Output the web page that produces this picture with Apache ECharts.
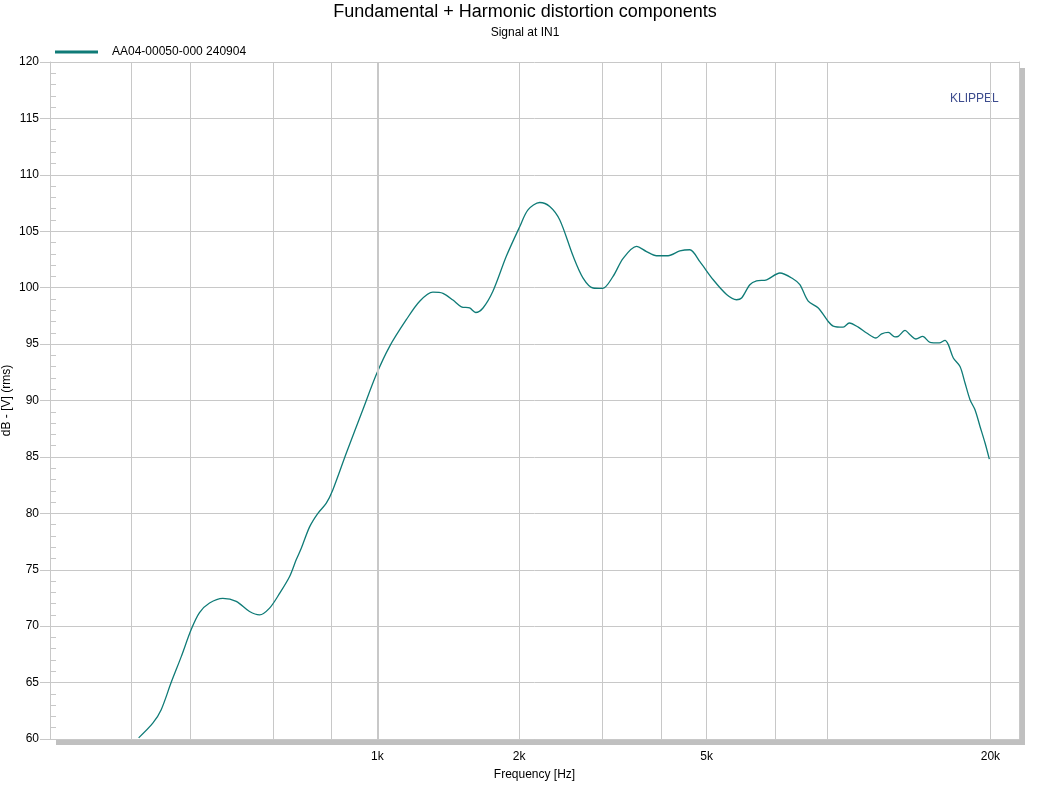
<!DOCTYPE html>
<html>
<head>
<meta charset="utf-8">
<script src="https://cdn.jsdelivr.net/npm/echarts@6/dist/echarts.min.js"></script>
<style>
html,body{margin:0;padding:0;background:#fff;}
#chart{width:1050px;height:788px;}
</style>
</head>
<body>
<div id="chart"></div>
<script>
// ---- data ----
const titleText = 'Fundamental + Harmonic distortion components';
const subtitleText = 'Signal at IN1';
const seriesName = 'AA04-00050-000 240904';
const xAxisName = 'Frequency [Hz]';
const yAxisName = 'dB - [V] (rms)';
const brandText = 'KLIPPEL';

const xGridValues = [300, 400, 600, 800, 1000, 2000, 3000, 4000, 5000, 7000, 9000, 20000];
const xLabelValues = [1000, 2000, 5000, 20000];
const xLabelTexts = ['1k', '2k', '5k', '20k'];

const freqHz = [311.5, 333.8, 347.8, 365.1, 383.6, 402.7, 419.4, 440.5, 470.0, 501.9,
  535.6, 562.4, 590.6, 620.2, 651.4, 673.0, 689.6, 718.2, 747.9, 779.3,
  804.8, 859.5, 932.0, 995, 1062, 1152, 1230, 1312, 1378, 1447,
  1508, 1570, 1617, 1676, 1760, 1879, 2005, 2088, 2211, 2322,
  2439, 2603, 2733, 2870, 3005, 3164, 3324, 3548, 3726, 3912,
  4141, 4385, 4604, 4836, 5162, 5510, 5785, 5929, 6174, 6379,
  6702, 7151, 7633, 7884, 8211, 8626, 9055, 9279, 9743, 10035,
  10486, 10925, 11434, 11755, 12142, 12546, 12750, 13178, 13503, 13904,
  14368, 14891, 15583, 16023, 16283, 16685, 17241, 17668, 18103, 18550,
  19011, 19485, 19897];
const levelDb = [60.1, 61.4, 62.6, 65.0, 67.3, 69.7, 71.2, 72.05, 72.46, 72.2,
  71.3, 71.0, 71.6, 72.9, 74.4, 75.9, 76.9, 78.8, 80.0, 80.9,
  82.1, 85.35, 89.2, 92.3, 94.8, 97.16, 98.8, 99.6, 99.5, 98.9,
  98.3, 98.2, 97.8, 98.2, 99.7, 102.8, 105.4, 106.9, 107.55, 107.2,
  106.0, 102.8, 100.85, 99.97, 99.93, 101.0, 102.6, 103.66, 103.2, 102.83,
  102.83, 103.25, 103.36, 102.3, 100.7, 99.4, 98.93, 99.08, 100.26, 100.6,
  100.7, 101.3, 100.77, 100.26, 98.8, 98.2, 97.0, 96.6, 96.5, 96.87,
  96.5, 95.98, 95.54, 95.9, 96.03, 95.63, 95.68, 96.21, 95.83, 95.45,
  95.68, 95.15, 95.1, 95.33, 94.95, 93.77, 93.02, 91.55, 90.07, 89.18,
  87.7, 86.23, 84.8];

// ---- chart ----
const n = Math.min(freqHz.length, levelDb.length);
const points = [];
for (let i = 0; i < n; i++) points.push([freqHz[i], levelDb[i]]);

const FONT = '"Liberation Sans", Arial, sans-serif';
const GRID = '#c8c8c8';
const LINE = '#0f7b77';

const chart = echarts.init(document.getElementById('chart'), null, {renderer: 'canvas'});
chart.setOption({
  backgroundColor: '#ffffff',
  animation: false,
  title: {
    text: titleText,
    subtext: subtitleText,
    left: 'center',
    top: -2,
    itemGap: 6,
    textStyle: {fontFamily: FONT, fontSize: 18, fontWeight: 'normal', color: '#000'},
    subtextStyle: {fontFamily: FONT, fontSize: 12, color: '#000'}
  },
  legend: {
    left: 50,
    top: 41,
    icon: 'rect',
    itemWidth: 43,
    itemHeight: 3,
    textStyle: {fontFamily: FONT, fontSize: 12, color: '#000', padding: [0, 0, 0, 9]},
    data: [seriesName]
  },
  graphic: [{
    type: 'text',
    left: 950,
    top: 93,
    style: {text: brandText, fill: '#3d4c8e', font: '12px ' + FONT}
  }],
  grid: {
    left: 50, right: 31, top: 62, bottom: 49,
    outerBoundsMode: 'none',
    containLabel: false,
    show: true,
    backgroundColor: '#ffffff',
    borderWidth: 0,
    shadowColor: '#c0c0c0',
    shadowBlur: 0,
    shadowOffsetX: 6,
    shadowOffsetY: 6
  },
  xAxis: {
    type: 'log',
    logBase: 10,
    min: 202,
    max: 23000,
    name: xAxisName,
    nameLocation: 'middle',
    nameGap: 30,
    nameMoveOverlap: false,
    nameTextStyle: {fontFamily: FONT, fontSize: 12, color: '#000'},
    axisLine: {show: false},
    axisTick: {show: false, customValues: xGridValues},
    axisLabel: {
      customValues: xLabelValues,
      margin: 12,
      fontFamily: FONT, fontSize: 12, color: '#000',
      formatter: function (v) {
        const idx = xLabelValues.findIndex(function (x) { return Math.abs(x - v) < 1e-6 * x; });
        return idx >= 0 ? xLabelTexts[idx] : '';
      }
    },
    splitLine: {show: true, lineStyle: {color: GRID, width: 1}},
    minorSplitLine: {show: false}
  },
  yAxis: [{
    type: 'value',
    min: 60, max: 120, interval: 5,
    name: yAxisName,
    nameLocation: 'middle',
    nameGap: 37,
    nameMoveOverlap: false,
    nameTextStyle: {fontFamily: FONT, fontSize: 12, color: '#000'},
    axisLine: {show: true, lineStyle: {color: GRID, width: 1}},
    axisTick: {show: true, length: 10, lineStyle: {color: GRID}},
    axisLabel: {margin: 11, fontFamily: FONT, fontSize: 12, color: '#000'},
    splitLine: {show: true, lineStyle: {color: GRID, width: 1}}
  }, {
    type: 'value',
    min: 60, max: 120, interval: 5,
    position: 'left',
    offset: 0,
    axisLine: {show: false},
    axisTick: {show: false, inside: true},
    axisLabel: {show: false},
    splitLine: {show: false},
    minorTick: {show: true, splitNumber: 5, length: 6, lineStyle: {color: GRID}}
  }, {
    type: 'value',
    min: 60, max: 120, interval: 5,
    position: 'right',
    offset: 0,
    axisLine: {show: true, lineStyle: {color: GRID, width: 1}},
    axisTick: {show: false},
    axisLabel: {show: false},
    splitLine: {show: false}
  }],
  series: [{
    name: seriesName,
    type: 'line',
    yAxisIndex: 0,
    data: points,
    showSymbol: false,
    symbol: 'none',
    smooth: 0.3,
    clip: true,
    color: LINE,
    lineStyle: {color: LINE, width: 1.3},
    markLine: {
      silent: true,
      symbol: 'none',
      label: {show: false},
      lineStyle: {color: GRID, width: 2, type: 'solid'},
      data: [{xAxis: 1000}]
    }
  }]
});
</script>
</body>
</html>
